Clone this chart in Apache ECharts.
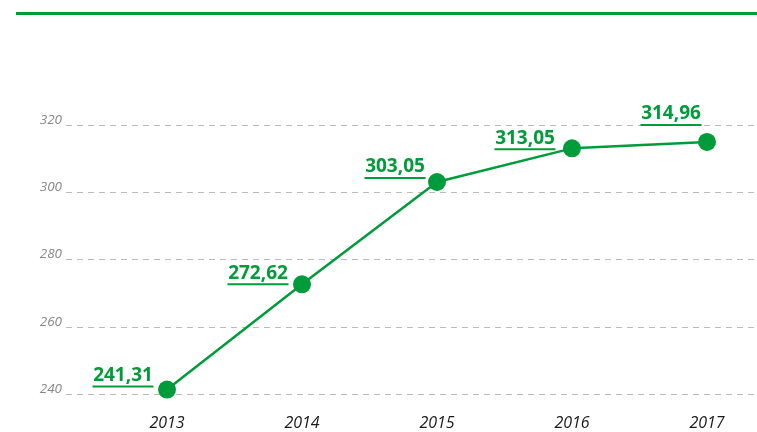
<!DOCTYPE html>
<html>
<head>
<meta charset="utf-8">
<script src="https://cdn.jsdelivr.net/npm/echarts@6/dist/echarts.min.js"></script>
<style>
  html, body { margin: 0; padding: 0; background: #fff; }
  #chart { width: 757px; height: 432px; }
</style>
</head>
<body>
<div id="chart"></div>
<script>
var years = ["2013", "2014", "2015", "2016", "2017"];
var values = [241.31, 272.62, 303.05, 313.05, 314.96];
var valueLabels = ["241,31", "272,62", "303,05", "313,05", "314,96"];
var yTicks = [240, 260, 280, 300, 320];

var green = "#009b3a";
// label block centre relative to the point
var labelOffsets = [[-44, -13], [-44, -10], [-42, -14], [-47, -9], [-36, -27]];

var points = values.map(function (v, i) {
  return {
    value: v,
    label: { offset: labelOffsets[i], formatter: "{v|" + valueLabels[i] + "}\n{u|}" }
  };
});

var chart = echarts.init(document.getElementById("chart"));
chart.setOption({
  animation: false,
  graphic: [
    { type: "rect", shape: { x: 16, y: 12, width: 741, height: 3 }, style: { fill: green } }
  ],
  grid: [
    { left: 66, right: 0, top: 125, bottom: 38 },
    { left: 167, right: 50, top: 125, bottom: 38 }
  ],
  xAxis: [
    { gridIndex: 0, type: "value", show: false },
    {
      gridIndex: 1,
      type: "category",
      data: years,
      boundaryGap: false,
      axisLine: { show: false },
      axisTick: { show: false },
      axisLabel: {
        margin: 21,
        color: "#1a1a1a",
        fontStyle: "italic",
        fontFamily: "Open Sans",
        fontSize: 16
      }
    }
  ],
  yAxis: [
    {
      gridIndex: 0,
      type: "value",
      min: yTicks[0],
      max: yTicks[yTicks.length - 1],
      interval: 20,
      axisLine: { show: false },
      axisTick: { show: false },
      axisLabel: {
        margin: 4,
        color: "#888",
        fontStyle: "italic",
        fontFamily: "Open Sans",
        fontSize: 13.5,
        lineHeight: 10,
        verticalAlign: "bottom"
      },
      splitLine: { lineStyle: { color: "#bbb", width: 1, type: [6, 5] } }
    },
    {
      gridIndex: 1,
      type: "value",
      min: yTicks[0],
      max: yTicks[yTicks.length - 1],
      show: false
    }
  ],
  series: [
    {
      type: "line",
      xAxisIndex: 1,
      yAxisIndex: 1,
      data: points,
      symbol: "circle",
      symbolSize: 18,
      itemStyle: { color: green },
      lineStyle: { color: green, width: 2.5 },
      label: {
        show: true,
        position: "inside",
        rich: {
          v: {
            color: green,
            fontFamily: "Open Sans",
            fontWeight: "bold",
            fontSize: 19,
            lineHeight: 20,
            align: "center"
          },
          u: {
            width: 61,
            height: 2,
            backgroundColor: green,
            align: "center"
          }
        }
      }
    }
  ]
});
</script>
</body>
</html>
